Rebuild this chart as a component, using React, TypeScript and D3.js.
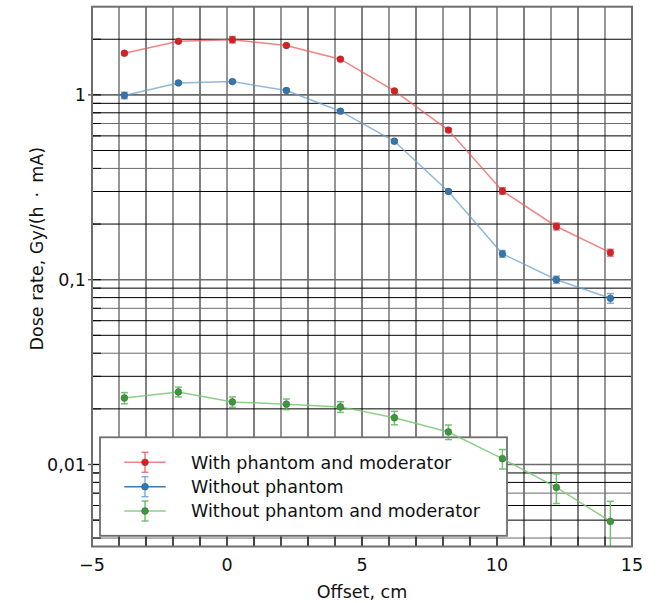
import React from 'react';
import * as d3 from 'd3';

const offsets = [-3.8, -1.8, 0.2, 2.2, 4.2, 6.2, 8.2, 10.2, 12.2, 14.2];
const withPhantomModerator = [1.68, 1.95, 1.99, 1.85, 1.56, 1.05, 0.645, 0.302, 0.194, 0.14];
const withPhantomModeratorErr = [0.03, 0.03, 0.08, 0.03, 0.025, 0.018, 0.012, 0.012, 0.0085, 0.006];
const withoutPhantom = [0.993, 1.16, 1.18, 1.056, 0.816, 0.561, 0.3, 0.138, 0.1, 0.0793];
const withoutPhantomErr = [0.04, 0.02, 0.02, 0.02, 0.014, 0.01, 0.006, 0.006, 0.0045, 0.0048];
const withoutPhantomModerator = [0.0229, 0.0247, 0.0218, 0.0212, 0.0205, 0.0179, 0.015, 0.01075, 0.00752, 0.00492];
const withoutPhantomModeratorErr = [0.0016, 0.0015, 0.0014, 0.0014, 0.00135, 0.0015, 0.00136, 0.0013, 0.00137, 0.0014];

const seriesNames = ['With phantom and moderator', 'Without phantom', 'Without phantom and moderator'];
const xTickValues = [-5, 0, 5, 10, 15];
const xTickLabels = ['\u22125', '0', '5', '10', '15'];
const yTickValues = [1, 0.1, 0.01];
const yTickLabels = ['1', '0,1', '0,01'];
const xLabel = 'Offset, cm';
const yLabel = 'Dose rate, Gy/(h \u2009\u00b7\u2009 mA)';

const FONT = 'DejaVu Sans, Verdana, sans-serif';
const TEXT = '#111';

export default function App() {
  const L = 92, R = 632, T = 6.7, B = 546.5;
  const x = d3.scaleLinear().domain([-5, 15]).range([L, R]);
  const y = d3.scaleLog().domain([0.0036, 3]).range([B, T]);

  const series = [
    { name: seriesNames[0], v: withPhantomModerator, e: withPhantomModeratorErr, fill: '#e41a1c', line: 'rgba(236,90,92,0.75)', err: 'rgba(236,90,92,0.8)', legLine: 'rgba(236,90,92,0.75)' },
    { name: seriesNames[1], v: withoutPhantom, e: withoutPhantomErr, fill: '#2f77b4', line: 'rgba(110,160,210,0.75)', err: 'rgba(110,160,210,0.85)', legLine: '#3a7bb8' },
    { name: seriesNames[2], v: withoutPhantomModerator, e: withoutPhantomModeratorErr, fill: '#3a9a3a', line: 'rgba(120,200,115,0.85)', err: 'rgba(100,190,95,0.9)', legLine: 'rgba(120,200,115,0.85)' },
  ];

  const xGrid = d3.range(-4, 15, 1);
  const yGrid: number[] = [];
  [0.001, 0.01, 0.1, 1].forEach((d) => {
    for (let k = 1; k <= 9; k++) {
      const v = d * k;
      if (v > 0.0036 && v < 3) yGrid.push(v);
    }
  });

  const line = d3.line<[number, number]>().x((d) => x(d[0])).y((d) => y(d[1]));

  const legX = 100, legY = 437.3, legW = 407, legH = 98.5;
  const legRows = [462.3, 486.7, 511];

  return (
    <svg width={664} height={603} style={{ position: 'absolute', left: 0, top: 0, background: '#fff' }}>
      <defs>
        <clipPath id="plot">
          <rect x={L} y={T} width={R - L} height={B - T} />
        </clipPath>
      </defs>
      <rect x={0} y={0} width={664} height={603} fill="#fff" />
      {/* grid */}
      <g>
        {xGrid.map((v, i) => (
          <line key={'xg' + i} x1={x(v)} x2={x(v)} y1={T} y2={B}
            stroke={v % 2 === 0 ? '#6a6a6a' : '#000'} strokeWidth={v % 2 === 0 ? 1.4 : 1} />
        ))}
        {yGrid.map((v, i) => {
          const major = Math.abs(Math.log10(v) - Math.round(Math.log10(v))) < 1e-6;
          return (
            <line key={'yg' + i} x1={L} x2={R} y1={y(v)} y2={y(v)}
              stroke={major || i % 3 === 0 ? '#6a6a6a' : '#000'} strokeWidth={major ? 1.6 : 1} />
          );
        })}
      </g>
      {/* ticks */}
      <g>
        {xGrid.map((v, i) => (
          <line key={'xt' + i} x1={x(v)} x2={x(v)} y1={B} y2={B - 10} stroke="#000" strokeWidth={1} />
        ))}
        {yGrid.map((v, i) => (
          <line key={'yt' + i} x1={L} x2={L + 9} y1={y(v)} y2={y(v)} stroke="#000" strokeWidth={1} />
        ))}
        {yTickValues.map((v, i) => (
          <line key={'ymt' + i} x1={L - 4} x2={L} y1={y(v)} y2={y(v)} stroke="#555" strokeWidth={1.4} />
        ))}
      </g>
      {/* legend (below data) */}
      <g>
        <rect x={legX} y={legY} width={legW} height={legH} fill="#fff" stroke="#6e6e6e" strokeWidth={1.8} />
        {series.map((s, si) => {
          const cy = legRows[si];
          const cx = 145;
          return (
            <g key={'l' + si}>
              <line x1={124.3} x2={165.7} y1={cy} y2={cy} stroke={s.legLine} strokeWidth={1.6} />
              <g stroke={s.err} strokeWidth={1.5}>
                <line x1={cx} x2={cx} y1={cy - 10} y2={cy + 10} />
                <line x1={cx - 3.5} x2={cx + 3.5} y1={cy - 10} y2={cy - 10} />
                <line x1={cx - 3.5} x2={cx + 3.5} y1={cy + 10} y2={cy + 10} />
              </g>
              <circle cx={cx} cy={cy} r={3.4} fill={s.fill} stroke="rgba(80,80,80,0.6)" strokeWidth={0.8} />
              <text x={191} y={cy + 6.3} fontFamily={FONT} fontSize={17.5} fill={TEXT}>{s.name}</text>
            </g>
          );
        })}
      </g>
      {/* data */}
      <g clipPath="url(#plot)">
        {series.map((s, si) => (
          <g key={'s' + si}>
            <path d={line(offsets.map((o, i) => [o, s.v[i]] as [number, number])) || ''} fill="none" stroke={s.line} strokeWidth={1.5} />
            {offsets.map((o, i) => {
              const cx = x(o);
              const y1 = y(s.v[i] + s.e[i]);
              const y2 = y(Math.max(s.v[i] - s.e[i], 0.0001));
              return (
                <g key={'e' + i} stroke={s.err} strokeWidth={1.5}>
                  <line x1={cx} x2={cx} y1={y1} y2={y2} />
                  <line x1={cx - 3.5} x2={cx + 3.5} y1={y1} y2={y1} />
                  <line x1={cx - 3.5} x2={cx + 3.5} y1={y2} y2={y2} />
                </g>
              );
            })}
            {offsets.map((o, i) => (
              <circle key={'m' + i} cx={x(o)} cy={y(s.v[i])} r={3.4} fill={s.fill} stroke="rgba(80,80,80,0.6)" strokeWidth={0.8} />
            ))}
          </g>
        ))}
      </g>
      {/* frame */}
      <rect x={L} y={T} width={R - L} height={B - T} fill="none" stroke="#6e6e6e" strokeWidth={2} />
      {/* tick labels */}
      <g fontFamily={FONT} fontSize={17.5} fill={TEXT}>
        {xTickValues.map((v, i) => (
          <text key={'xl' + i} x={x(v)} y={570.5} textAnchor="middle">{xTickLabels[i]}</text>
        ))}
        {yTickValues.map((v, i) => (
          <text key={'yl' + i} x={86} y={y(v) + 6.5} textAnchor="end">{yTickLabels[i]}</text>
        ))}
        <text x={362} y={598} textAnchor="middle">{xLabel}</text>
        <text transform={`translate(43,248.7) rotate(-90)`} textAnchor="middle">{yLabel}</text>
      </g>
    </svg>
  );
}
